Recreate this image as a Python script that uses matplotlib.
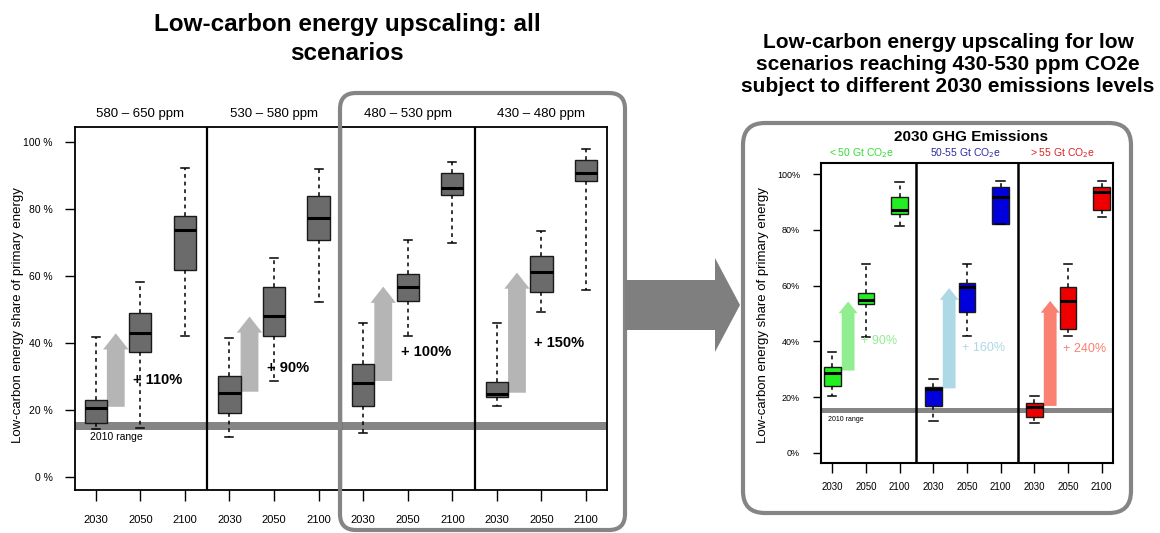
import numpy as np
import matplotlib
matplotlib.use('Agg')
import matplotlib.pyplot as plt
import matplotlib.patches as mpatches

plt.rcParams['font.family'] = ['Liberation Sans', 'DejaVu Sans']

# ---- data: low-carbon share of primary energy (%) ----
years = ['2030', '2050', '2100']

# left chart: all scenarios, by concentration category
ppm_groups = ['580 – 650 ppm', '530 – 580 ppm', '480 – 530 ppm', '430 – 480 ppm']
all_low = [14.3, 14.6, 42.1, 11.9, 28.8, 52.1, 13.1, 42.1, 69.7, 21.2, 49.3, 55.9]
all_q1 = [16.1, 37.4, 61.7, 19.2, 42.1, 70.7, 21.2, 52.5, 84.1, 23.8, 55.1, 88.4]
all_med = [20.6, 43.1, 73.7, 25.2, 48.1, 77.4, 28.2, 56.8, 86.1, 24.8, 61.1, 90.6]
all_q3 = [23.0, 49.0, 77.9, 30.2, 56.8, 83.8, 33.7, 60.5, 90.8, 28.3, 65.9, 94.6]
all_high = [41.9, 58.1, 92.3, 41.4, 65.4, 91.8, 45.9, 70.7, 94.0, 45.9, 73.4, 97.8]
all_arrow_from = [21.0, 25.5, 28.7, 25.2]
all_arrow_to = [42.9, 47.9, 56.8, 61.0]
all_increase = ['+ 110%', '+ 90%', '+ 100%', '+ 150%']
all_increase_y = [29.0, 32.6, 37.4, 40.1]

# right chart: 430-530 ppm scenarios by 2030 GHG emissions
emis_groups = ['< 50 Gt CO$_2$e', '50-55 Gt CO$_2$e', '> 55 Gt CO$_2$e']
low_low = [20.4, 41.5, 81.6, 11.5, 41.9, 82.0, 10.6, 41.9, 84.8]
low_q1 = [24.0, 53.4, 85.7, 16.8, 50.4, 82.2, 12.9, 44.6, 87.2]
low_med = [28.7, 54.9, 87.0, 22.9, 59.4, 92.0, 16.3, 54.5, 93.6]
low_q3 = [30.9, 57.5, 92.0, 23.7, 60.9, 95.4, 18.0, 59.4, 95.6]
low_high = [36.3, 67.7, 97.1, 26.4, 67.7, 97.6, 20.4, 67.7, 97.6]
low_arrow_from = [29.5, 23.1, 16.8]
low_arrow_to = [54.3, 59.1, 54.5]
low_increase = ['+ 90%', '+ 160%', '+ 240%']
low_increase_y = [40.1, 37.5, 37.4]

range_2010 = [14.1, 16.6]
yticks = [0, 20, 40, 60, 80, 100]

emis_box_colors = ['#22ee22', '#0000dd', '#ee0000']
emis_text_colors = ['#33dd33', '#2a2aa0', '#dd2222']
emis_arrow_colors = ['#90ee90', '#add8e6', '#fa8072']

fig = plt.figure(figsize=(11.6, 5.33), dpi=100)


def boxes(ax, lo, q1, med, q3, hi, faces, capw):
    stats = [dict(whislo=a, q1=b, med=c, q3=d, whishi=e, fliers=[])
             for a, b, c, d, e in zip(lo, q1, med, q3, hi)]
    pos = np.arange(1, len(stats) + 1)
    bp = ax.bxp(stats, positions=pos, widths=0.5, patch_artist=True,
                showfliers=False, capwidths=capw,
                boxprops=dict(edgecolor='#1a1a1a', linewidth=1.0),
                whiskerprops=dict(color='black', linewidth=1.1, linestyle=(0, (2.5, 2.5))),
                capprops=dict(color='black', linewidth=1.1),
                medianprops=dict(color='black', linewidth=2.2))
    for patch, fc in zip(bp['boxes'], faces):
        patch.set_facecolor(fc)
    ax.set_xticks(pos)
    ax.set_xticklabels(years * (len(stats) // 3))
    return pos


# ---------------- left chart ----------------
ax1 = fig.add_axes([75 / 1160, 1 - 490 / 533, 532 / 1160, 363 / 533])
ax1.axhspan(range_2010[0], range_2010[1], color='#858585', lw=0, zorder=1)
for i in range(4):
    c = 1.45 + 3 * i
    ax1.add_patch(mpatches.FancyArrow(c, all_arrow_from[i], 0, all_arrow_to[i] - all_arrow_from[i],
                                      width=0.4, head_width=0.57, head_length=4.8,
                                      length_includes_head=True, color='#b5b5b5', lw=0, zorder=2))
    ax1.text(1.84 + 3 * i, all_increase_y[i], all_increase[i], fontsize=10.5,
             fontweight='bold', ha='left', va='center', zorder=4)
    ax1.text(2 + 3 * i, 108.3, ppm_groups[i], fontsize=9.5, ha='center', va='center',
             clip_on=False)
boxes(ax1, all_low, all_q1, all_med, all_q3, all_high, ['#6b6b6b'] * 12, 0.18)
for xd in [3.5, 6.5, 9.5]:
    ax1.axvline(xd, color='black', lw=1.6, zorder=3)
ax1.text(0.87, 11.9, '2010 range', fontsize=7.5, ha='left', va='center')
ax1.set_xlim(0.535, 12.47)
ax1.set_ylim(-3.8, 104.4)
ax1.set_yticks(yticks)
ax1.set_yticklabels([f'{v} %' for v in yticks])
ax1.tick_params(axis='y', length=7, width=1, labelsize=7.5, pad=9)
ax1.tick_params(axis='x', length=8, width=1, labelsize=8, pad=10)
for s in ax1.spines.values():
    s.set_linewidth(1.3)

# ---------------- right chart ----------------
ax2 = fig.add_axes([821 / 1160, 1 - 462.7 / 533, 292 / 1160, 299.4 / 533])
ax2.axhspan(14.4, 16.0, color='#858585', lw=0, zorder=1)
for i in range(3):
    c = 1.47 + 3 * i
    ax2.add_patch(mpatches.FancyArrow(c, low_arrow_from[i], 0, low_arrow_to[i] - low_arrow_from[i],
                                      width=0.38, head_width=0.56, head_length=4.2,
                                      length_includes_head=True, color=emis_arrow_colors[i],
                                      lw=0, zorder=2))
    ax2.text(1.86 + 3 * i, low_increase_y[i], low_increase[i], fontsize=9,
             color=emis_arrow_colors[i], ha='left', va='center', zorder=4)
    ax2.text([1.87, 4.95, 7.84][i], 107.6, emis_groups[i], fontsize=7.5,
             color=emis_text_colors[i], ha='center', va='center', clip_on=False)
faces = [c for c in emis_box_colors for _ in range(3)]
boxes(ax2, low_low, low_q1, low_med, low_q3, low_high, faces, 0.25)
for xd in [3.5, 6.5]:
    ax2.axvline(xd, color='black', lw=1.8, zorder=3)
ax2.text(0.88, 12.0, '2010 range', fontsize=5, ha='left', va='center')
ax2.text(5.11, 113.3, '2030 GHG Emissions', fontsize=11, fontweight='bold',
         ha='center', va='center', clip_on=False)
ax2.set_xlim(0.665, 9.335)
ax2.set_ylim(-3.6, 103.95)
ax2.set_yticks(yticks)
ax2.set_yticklabels([f'{v}%' for v in yticks])
ax2.tick_params(axis='y', length=6, width=1, labelsize=6.5, pad=9)
ax2.tick_params(axis='x', length=7, width=1, labelsize=7, pad=7)
for s in ax2.spines.values():
    s.set_linewidth(1.5)

# ---------------- overlay: titles, frames, big arrow ----------------
ov = fig.add_axes([0, 0, 1, 1], zorder=5)
ov.set_xlim(0, 1160)
ov.set_ylim(533, 0)
ov.axis('off')
ov.patch.set_alpha(0)

ov.text(347, 39, 'Low-carbon energy upscaling: all\nscenarios', fontsize=17.5,
        fontweight='bold', ha='center', va='center', linespacing=1.3)
ov.text(948, 64, 'Low-carbon energy upscaling for low\nscenarios reaching 430-530 ppm CO2e\n'
        'subject to different 2030 emissions levels', fontsize=15,
        fontweight='bold', ha='center', va='center', linespacing=1.2)
ov.text(18, 315, 'Low-carbon energy share of primary energy', fontsize=9.5,
        rotation=90, ha='center', va='center')
ov.text(763, 315, 'Low-carbon energy share of primary energy', fontsize=9.5,
        rotation=90, ha='center', va='center')

ov.add_patch(mpatches.FancyBboxPatch((340, 93), 285, 437,
                                     boxstyle='round,pad=0,rounding_size=16',
                                     fill=False, ec='#858585', lw=3))
ov.add_patch(mpatches.FancyBboxPatch((743, 123), 388, 390,
                                     boxstyle='round,pad=0,rounding_size=22',
                                     fill=False, ec='#858585', lw=3))
ov.add_patch(mpatches.FancyArrow(625, 305, 115, 0, width=50, head_width=94,
                                 head_length=25, length_includes_head=True,
                                 color='#7f7f7f', lw=0))

fig.savefig('out.png', dpi=100)
